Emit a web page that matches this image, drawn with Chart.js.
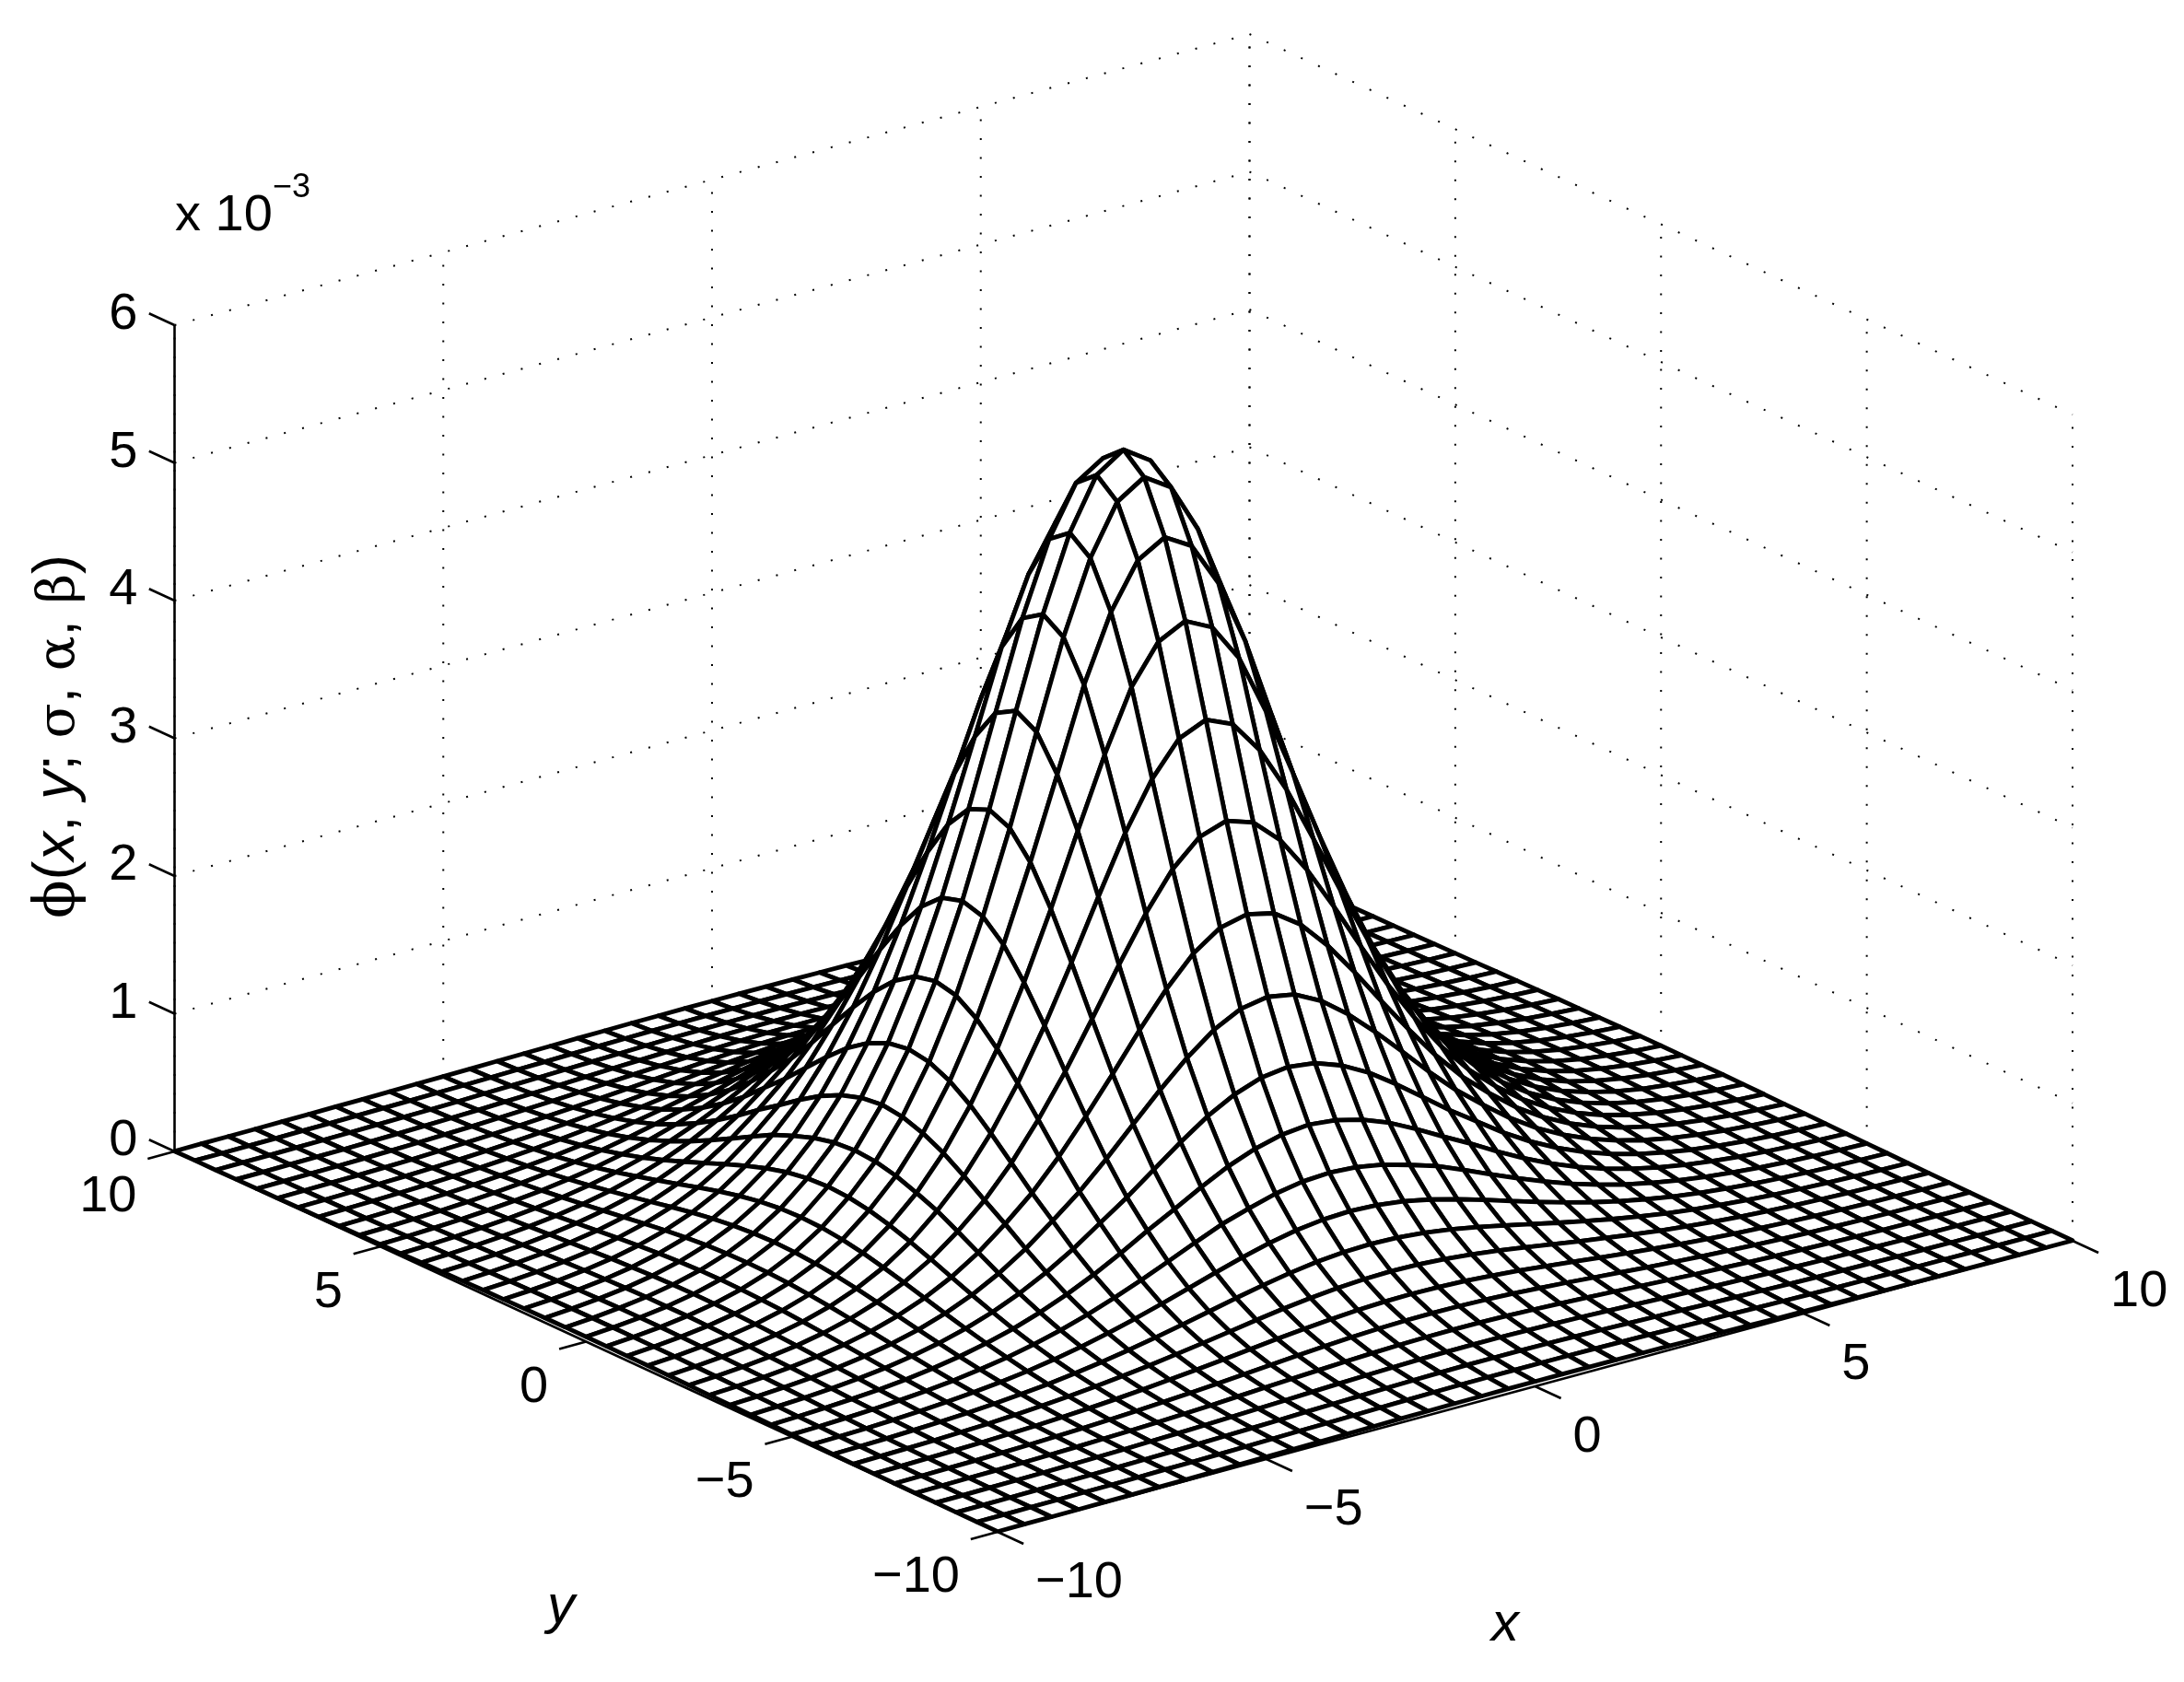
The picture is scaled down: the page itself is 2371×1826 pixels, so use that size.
<!DOCTYPE html>
<html>
<head>
<meta charset="utf-8">
<title>phi surface</title>
<script src="https://cdn.jsdelivr.net/npm/chart.js@4"></script>
<style>
  html, body { margin: 0; padding: 0; background: #fff; }
  canvas { display: block; }
</style>
</head>
<body>
<canvas id="surface" width="2371" height="1826"></canvas>
<script>
// Grid nodes along x and y
const gridX = [-10,-9.5,-9,-8.5,-8,-7.5,-7,-6.5,-6,-5.5,-5,-4.5,-4,-3.5,-3,-2.5,-2,-1.5,-1,-0.5,0,0.5,1,1.5,2,2.5,3,3.5,4,4.5,5,5.5,6,6.5,7,7.5,8,8.5,9,9.5,10];
const gridY = [-10,-9.5,-9,-8.5,-8,-7.5,-7,-6.5,-6,-5.5,-5,-4.5,-4,-3.5,-3,-2.5,-2,-1.5,-1,-0.5,0,0.5,1,1.5,2,2.5,3,3.5,4,4.5,5,5.5,6,6.5,7,7.5,8,8.5,9,9.5,10];

// Surface height, in units of 1e-6 (row = y, column = x)
const heights = [
[2,3,3,4,5,6,8,9,11,14,16,18,21,24,26,29,31,33,34,35,35,35,34,33,31,29,26,24,21,18,16,14,11,9,8,6,5,4,3,3,2],
[3,3,4,5,7,8,10,13,15,18,21,25,29,32,36,40,43,46,48,49,49,49,48,46,43,40,36,32,29,25,21,18,15,13,10,8,7,5,4,3,3],
[3,4,5,7,9,11,14,17,20,24,29,34,39,45,50,55,60,64,67,69,69,69,67,64,60,55,50,45,39,34,29,24,20,17,14,11,9,7,5,4,3],
[4,5,7,9,11,14,18,22,27,32,39,46,53,61,69,76,83,88,93,96,96,96,93,88,83,76,69,61,53,46,39,32,27,22,18,14,11,9,7,5,4],
[5,7,9,11,14,18,23,29,35,43,52,61,72,83,94,104,114,122,129,133,134,133,129,122,114,104,94,83,72,61,52,43,35,29,23,18,14,11,9,7,5],
[6,8,11,14,18,23,30,37,46,57,69,82,96,112,127,143,157,169,178,184,186,184,178,169,157,143,127,112,96,82,69,57,46,37,30,23,18,14,11,8,6],
[8,10,14,18,23,30,38,48,60,74,90,109,129,150,172,194,214,231,245,253,256,253,245,231,214,194,172,150,129,109,90,74,60,48,38,30,23,18,14,10,8],
[9,13,17,22,29,37,48,61,77,96,118,143,171,200,231,262,291,316,335,347,352,347,335,316,291,262,231,200,171,143,118,96,77,61,48,37,29,22,17,13,9],
[11,15,20,27,35,46,60,77,97,122,152,186,224,265,308,352,392,428,456,474,480,474,456,428,392,352,308,265,224,186,152,122,97,77,60,46,35,27,20,15,11],
[14,18,24,32,43,57,74,96,122,155,194,239,291,347,407,468,525,576,616,641,650,641,616,576,525,468,407,347,291,239,194,155,122,96,74,57,43,32,24,18,14],
[16,21,29,39,52,69,90,118,152,194,245,305,374,450,532,616,697,758,813,848,860,848,813,758,697,616,532,450,374,305,245,194,152,118,90,69,52,39,29,21,16],
[18,25,34,46,61,82,109,143,186,239,305,383,474,576,687,790,897,995,1070,1120,1140,1120,1070,995,897,790,687,576,474,383,305,239,186,143,109,82,61,46,34,25,18],
[21,29,39,53,72,96,129,171,224,291,374,474,591,726,860,1008,1155,1290,1395,1465,1490,1465,1395,1290,1155,1008,860,726,591,474,374,291,224,171,129,96,72,53,39,29,21],
[24,32,45,61,83,112,150,200,265,347,450,576,726,885,1070,1270,1465,1645,1795,1895,1930,1895,1795,1645,1465,1270,1070,885,726,576,450,347,265,200,150,112,83,61,45,32,24],
[26,36,50,69,94,127,172,231,308,407,532,687,860,1070,1310,1565,1830,2075,2280,2415,2460,2415,2280,2075,1830,1565,1310,1070,860,687,532,407,308,231,172,127,94,69,50,36,26],
[29,40,55,76,104,143,194,262,352,468,616,790,1008,1270,1565,1895,2235,2555,2825,3005,3070,3005,2825,2555,2235,1895,1565,1270,1008,790,616,468,352,262,194,143,104,76,55,40,29],
[31,43,60,83,114,157,214,291,392,525,697,897,1155,1465,1830,2235,2660,3070,3410,3650,3735,3650,3410,3070,2660,2235,1830,1465,1155,897,697,525,392,291,214,157,114,83,60,43,31],
[33,46,64,88,122,169,231,316,428,576,758,995,1290,1645,2075,2555,3070,3570,4008,4285,4383,4285,4008,3570,3070,2555,2075,1645,1290,995,758,576,428,316,231,169,122,88,64,46,33],
[34,48,67,93,129,178,245,335,456,616,813,1070,1395,1795,2280,2825,3410,4008,4484,4807,4922,4807,4484,4008,3410,2825,2280,1795,1395,1070,813,616,456,335,245,178,129,93,67,48,34],
[35,49,69,96,133,184,253,347,474,641,848,1120,1465,1895,2415,3005,3650,4285,4807,5163,5289,5163,4807,4285,3650,3005,2415,1895,1465,1120,848,641,474,347,253,184,133,96,69,49,35],
[35,49,69,96,134,186,256,352,480,650,860,1140,1490,1930,2460,3070,3735,4383,4922,5289,5420,5289,4922,4383,3735,3070,2460,1930,1490,1140,860,650,480,352,256,186,134,96,69,49,35],
[35,49,69,96,133,184,253,347,474,641,848,1120,1465,1895,2415,3005,3650,4285,4807,5163,5289,5163,4807,4285,3650,3005,2415,1895,1465,1120,848,641,474,347,253,184,133,96,69,49,35],
[34,48,67,93,129,178,245,335,456,616,813,1070,1395,1795,2280,2825,3410,4008,4484,4807,4922,4807,4484,4008,3410,2825,2280,1795,1395,1070,813,616,456,335,245,178,129,93,67,48,34],
[33,46,64,88,122,169,231,316,428,576,758,995,1290,1645,2075,2555,3070,3570,4008,4285,4383,4285,4008,3570,3070,2555,2075,1645,1290,995,758,576,428,316,231,169,122,88,64,46,33],
[31,43,60,83,114,157,214,291,392,525,697,897,1155,1465,1830,2235,2660,3070,3410,3650,3735,3650,3410,3070,2660,2235,1830,1465,1155,897,697,525,392,291,214,157,114,83,60,43,31],
[29,40,55,76,104,143,194,262,352,468,616,790,1008,1270,1565,1895,2235,2555,2825,3005,3070,3005,2825,2555,2235,1895,1565,1270,1008,790,616,468,352,262,194,143,104,76,55,40,29],
[26,36,50,69,94,127,172,231,308,407,532,687,860,1070,1310,1565,1830,2075,2280,2415,2460,2415,2280,2075,1830,1565,1310,1070,860,687,532,407,308,231,172,127,94,69,50,36,26],
[24,32,45,61,83,112,150,200,265,347,450,576,726,885,1070,1270,1465,1645,1795,1895,1930,1895,1795,1645,1465,1270,1070,885,726,576,450,347,265,200,150,112,83,61,45,32,24],
[21,29,39,53,72,96,129,171,224,291,374,474,591,726,860,1008,1155,1290,1395,1465,1490,1465,1395,1290,1155,1008,860,726,591,474,374,291,224,171,129,96,72,53,39,29,21],
[18,25,34,46,61,82,109,143,186,239,305,383,474,576,687,790,897,995,1070,1120,1140,1120,1070,995,897,790,687,576,474,383,305,239,186,143,109,82,61,46,34,25,18],
[16,21,29,39,52,69,90,118,152,194,245,305,374,450,532,616,697,758,813,848,860,848,813,758,697,616,532,450,374,305,245,194,152,118,90,69,52,39,29,21,16],
[14,18,24,32,43,57,74,96,122,155,194,239,291,347,407,468,525,576,616,641,650,641,616,576,525,468,407,347,291,239,194,155,122,96,74,57,43,32,24,18,14],
[11,15,20,27,35,46,60,77,97,122,152,186,224,265,308,352,392,428,456,474,480,474,456,428,392,352,308,265,224,186,152,122,97,77,60,46,35,27,20,15,11],
[9,13,17,22,29,37,48,61,77,96,118,143,171,200,231,262,291,316,335,347,352,347,335,316,291,262,231,200,171,143,118,96,77,61,48,37,29,22,17,13,9],
[8,10,14,18,23,30,38,48,60,74,90,109,129,150,172,194,214,231,245,253,256,253,245,231,214,194,172,150,129,109,90,74,60,48,38,30,23,18,14,10,8],
[6,8,11,14,18,23,30,37,46,57,69,82,96,112,127,143,157,169,178,184,186,184,178,169,157,143,127,112,96,82,69,57,46,37,30,23,18,14,11,8,6],
[5,7,9,11,14,18,23,29,35,43,52,61,72,83,94,104,114,122,129,133,134,133,129,122,114,104,94,83,72,61,52,43,35,29,23,18,14,11,9,7,5],
[4,5,7,9,11,14,18,22,27,32,39,46,53,61,69,76,83,88,93,96,96,96,93,88,83,76,69,61,53,46,39,32,27,22,18,14,11,9,7,5,4],
[3,4,5,7,9,11,14,17,20,24,29,34,39,45,50,55,60,64,67,69,69,69,67,64,60,55,50,45,39,34,29,24,20,17,14,11,9,7,5,4,3],
[3,3,4,5,7,8,10,13,15,18,21,25,29,32,36,40,43,46,48,49,49,49,48,46,43,40,36,32,29,25,21,18,15,13,10,8,7,5,4,3,3],
[2,3,3,4,5,6,8,9,11,14,16,18,21,24,26,29,31,33,34,35,35,35,34,33,31,29,26,24,21,18,16,14,11,9,8,6,5,4,3,3,2]
];

// Axis ticks
const xTicks = [-10, -5, 0, 5, 10];
const yTicks = [-10, -5, 0, 5, 10];
const zTicks = [0, 1, 2, 3, 4, 5, 6];
const xTickLabels = ["\u221210", "\u22125", "0", "5", "10"];
const yTickLabels = ["\u221210", "\u22125", "0", "5", "10"];
const zTickLabels = ["0", "1", "2", "3", "4", "5", "6"];

const SANS = '"Liberation Sans", Arial, sans-serif';
const SERIF = '"DejaVu Serif", serif';

// Fixed oblique view: data (x, y, z) to the picture plane
function project(x, y, z) {
    return {
        x: 1219.75 + 58.35 * x - 44.675 * y,
        y: 1298.5 - 15.8 * x - 20.65 * y - 149.5 * z
    };
}

function polyline(points, width, dash) {
    return {
        data: points.map(p => project(p[0], p[1], p[2])),
        showLine: true,
        fill: false,
        borderColor: "#000",
        borderWidth: width,
        borderDash: dash || [],
        borderCapStyle: "butt",
        pointRadius: 0,
        tension: 0
    };
}

function buildDatasets() {
    const sets = [];

    // Mesh: first dataset is painted last, so nearest cells go first
    for (let i = 0; i < gridX.length - 1; i++) {
        for (let j = 0; j < gridY.length - 1; j++) {
            const corners = [[i, j], [i + 1, j], [i + 1, j + 1], [i, j + 1], [i, j]];
            const cell = polyline(corners.map(c => [gridX[c[0]], gridY[c[1]], heights[c[1]][c[0]] / 1000]), 4.8);
            cell.fill = "shape";
            cell.backgroundColor = "#fff";
            cell.borderJoinStyle = "round";
            sets.push(cell);
        }
    }

    // Axis lines and ticks
    sets.push(polyline([[-10, -10, 0], [10, -10, 0]], 2.6));
    sets.push(polyline([[-10, -10, 0], [-10, 10, 0]], 2.6));
    sets.push(polyline([[-10, 10, 0], [-10, 10, 6]], 2.6));
    xTicks.forEach(t => sets.push(polyline([[t, -10, 0], [t, -10.63, 0]], 2.6)));
    yTicks.forEach(t => sets.push(polyline([[-10, t, 0], [-10.5, t, 0]], 2.6)));
    zTicks.forEach(t => sets.push(polyline([[-10, 10, t], [-10, 10.62, t]], 2.6)));

    // Dotted grid on the two back walls
    const dots = [2, 18.5];
    zTicks.forEach(t => {
        sets.push(polyline([[-10, 10, t], [10, 10, t]], 2, dots));
        sets.push(polyline([[10, 10, t], [10, -10, t]], 2, dots));
    });
    xTicks.forEach(t => sets.push(polyline([[t, 10, 0], [t, 10, 6]], 2, dots)));
    yTicks.forEach(t => sets.push(polyline([[10, t, 0], [10, t, 6]], 2, dots)));

    return sets;
}

// Text sits on the canvas next to the projected axes
const textPlugin = {
    id: "axisText",
    afterDraw(chart) {
        const ctx = chart.ctx;
        const sx = chart.scales.x;
        const sy = chart.scales.y;
        const put = (text, x, y, align, font) => {
            ctx.font = font;
            ctx.textAlign = align;
            ctx.fillText(text, sx.getPixelForValue(x), sy.getPixelForValue(y));
        };

        ctx.save();
        ctx.fillStyle = "#000";
        ctx.textBaseline = "middle";
        const tickFont = `56px ${SANS}`;

        xTicks.forEach((t, i) => {
            const p = project(t, -10, 0);
            put(xTickLabels[i], p.x + 41, p.y + 56, "left", tickFont);
        });
        yTicks.forEach((t, i) => {
            const p = project(-10, t, 0);
            put(yTickLabels[i], p.x - 41, p.y + 50, "right", tickFont);
        });
        zTicks.forEach((t, i) => {
            const p = project(-10, 10, t);
            put(zTickLabels[i], p.x - 40, p.y - 11, "right", tickFont);
        });

        ctx.textBaseline = "alphabetic";
        put("x 10", 190, 250, "left", tickFont);
        put("\u22123", 296, 214, "left", `36px ${SANS}`);
        put("y", 609, 1762, "center", `italic 60px ${SANS}`);
        put("x", 1634, 1781, "center", `italic 60px ${SANS}`);

        // Vertical label, piece by piece because of the mixed faces
        const pieces = [
            ["\u03D5", `61px ${SERIF}`],
            ["(", `63px ${SANS}`],
            ["x", `italic 63px ${SANS}`],
            [", ", `63px ${SANS}`],
            ["y", `italic 63px ${SANS}`],
            ["; ", `63px ${SANS}`],
            ["\u03C3", `56px ${SERIF}`],
            [", ", `63px ${SANS}`],
            ["\u03B1", `56px ${SERIF}`],
            [", ", `63px ${SANS}`],
            ["\u03B2", `56px ${SERIF}`],
            [")", `63px ${SANS}`]
        ];
        ctx.translate(80, 997);
        ctx.rotate(-Math.PI / 2);
        ctx.textAlign = "left";
        let run = 0;
        pieces.forEach(p => {
            ctx.font = p[1];
            ctx.fillText(p[0], run, 0);
            run += ctx.measureText(p[0]).width;
        });
        ctx.restore();
    }
};

new Chart(document.getElementById("surface").getContext("2d"), {
    type: "scatter",
    data: { datasets: buildDatasets() },
    options: {
        responsive: false,
        animation: false,
        events: [],
        layout: { padding: 0 },
        plugins: { legend: { display: false }, tooltip: { enabled: false } },
        scales: {
            x: { type: "linear", min: 0, max: 2371, display: false },
            y: { type: "linear", min: 0, max: 1826, reverse: true, display: false }
        }
    },
    plugins: [textPlugin]
});
</script>
</body>
</html>
